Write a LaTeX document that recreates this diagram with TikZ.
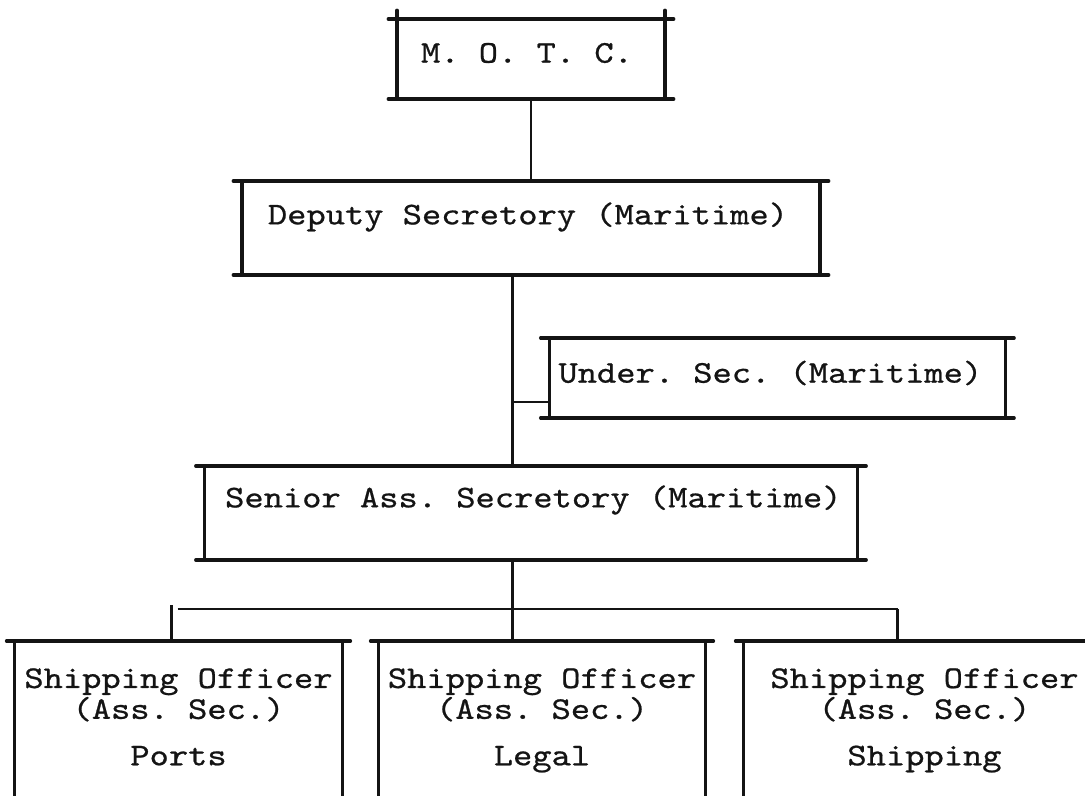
\documentclass[tikz,border=0pt]{standalone}
\usepackage{fontspec}
\newfontfamily\typed[FakeStretch=1.16,FakeBold=0.7]{lmmono10-regular.otf}
\usetikzlibrary{positioning}
\definecolor{Ink}{HTML}{141414}
\tikzset{
  orgbox/.style={rectangle,inner sep=0pt,outer sep=0pt},
  typed/.style={inner sep=0pt,align=center,text=Ink,font=\fontsize{22.5}{22}\typed\frenchspacing},
  inkline/.style={draw=Ink,line width=2.3pt,line cap=round},
  link/.style={draw=Ink,line width=2pt}
}
% ruled frame: top and bottom rules run a little past the corners
\newcommand\ruled[2][0cm]{%
  \draw[inkline] ([xshift=-.22cm]#2.north west) -- ([xshift=.22cm]#2.north east);
  \draw[inkline] ([xshift=-.22cm]#2.south west) -- ([xshift=.22cm]#2.south east);
  \draw[inkline] ([yshift=#1]#2.north west) -- (#2.south west);
  \draw[inkline] ([yshift=#1]#2.north east) -- (#2.south east);}
% open frame: the page cuts it off at the bottom
\newcommand\opened[1]{%
  \draw[inkline] ([xshift=-.2cm]#1.north west) -- ([xshift=.2cm]#1.north east);
  \draw[inkline] (#1.north west) -- (#1.south west);
  \draw[inkline] (#1.north east) -- (#1.south east);}

\begin{document}
\begin{tikzpicture}
  \useasboundingbox (0,0) rectangle (27.125,-19.9);

  \node[orgbox,minimum width=6.7cm,minimum height=2cm] (motc) at (13.275,-1.475) {};
  \node[orgbox,minimum width=14.45cm,minimum height=2.35cm,below=2.05cm of motc] (dep) {};
  \node[orgbox,minimum width=16.325cm,minimum height=2.35cm,below=4.775cm of dep] (senior) {};
  \node[orgbox,minimum width=11.4cm,minimum height=2cm,anchor=north west] (under) at ([xshift=.46cm,yshift=-1.575cm]dep.south) {};

  \node[orgbox,minimum width=8.175cm,minimum height=3.875cm,below=2.025cm of senior,xshift=.275cm] (legal) {};
  \node[orgbox,minimum width=8.2cm,minimum height=3.875cm,left=.9cm of legal] (ports) {};
  \node[orgbox,minimum width=8.775cm,minimum height=3.875cm,right=.95cm of legal] (shipping) {};

  \ruled[.22cm]{motc}
  \ruled{dep}
  \ruled{under}
  \ruled{senior}
  \opened{ports}
  \opened{legal}
  \opened{shipping}

  % texts
  \node[typed] (motc-t) at ([xshift=-.1cm,yshift=-.85cm]motc.north) {M. O. T. C.};
  \node[typed] (dep-t) at ([xshift=-.075cm,yshift=-.9cm]dep.north) {Deputy Secretory (Maritime)};
  \node[typed] (under-t) at ([xshift=-.175cm,yshift=-.875cm]under.north) {Under. Sec. (Maritime)};
  \node[typed] (senior-t) at ([xshift=.06cm,yshift=-.85cm]senior.north) {Senior Ass. Secretory (Maritime)};
  \node[typed,anchor=north] (ports-t) at ([yshift=-.675cm]ports.north) {Shipping Officer\\(Ass. Sec.)\\[11pt]Ports};
  \node[typed,anchor=north] (legal-t) at ([yshift=-.675cm]legal.north) {Shipping Officer\\(Ass. Sec.)\\[11pt]Legal};
  \node[typed,anchor=north] (shipping-t) at ([xshift=4.525cm,yshift=-.675cm]shipping.north west) {Shipping Officer\\(Ass. Sec.)\\[11pt]Shipping};

  % connectors
  \coordinate (trunk) at ([xshift=-.46cm]dep.south);
  \coordinate (stub) at ([yshift=.4cm]under.south west);
  \coordinate (bus) at ([yshift=-1.225cm]trunk |- senior.south);
  \coordinate (ports-drop) at ([xshift=-.175cm]ports.north);
  \coordinate (shipping-drop) at ([xshift=3.85cm]shipping.north west);

  \draw[link] (motc.south) -- (dep.north);
  \draw[link] (trunk) -- (trunk |- senior.north);
  \draw[link] (stub) -- (stub -| trunk);
  \draw[link] (trunk |- senior.south) -- (trunk |- legal.north);
  \draw[link] ([xshift=.15cm]ports-drop |- bus) -- (shipping-drop |- bus);
  \draw[link] ([yshift=.1cm]ports-drop |- bus) -- (ports-drop);
  \draw[link] (shipping-drop |- bus) -- (shipping-drop);
\end{tikzpicture}
\end{document}
